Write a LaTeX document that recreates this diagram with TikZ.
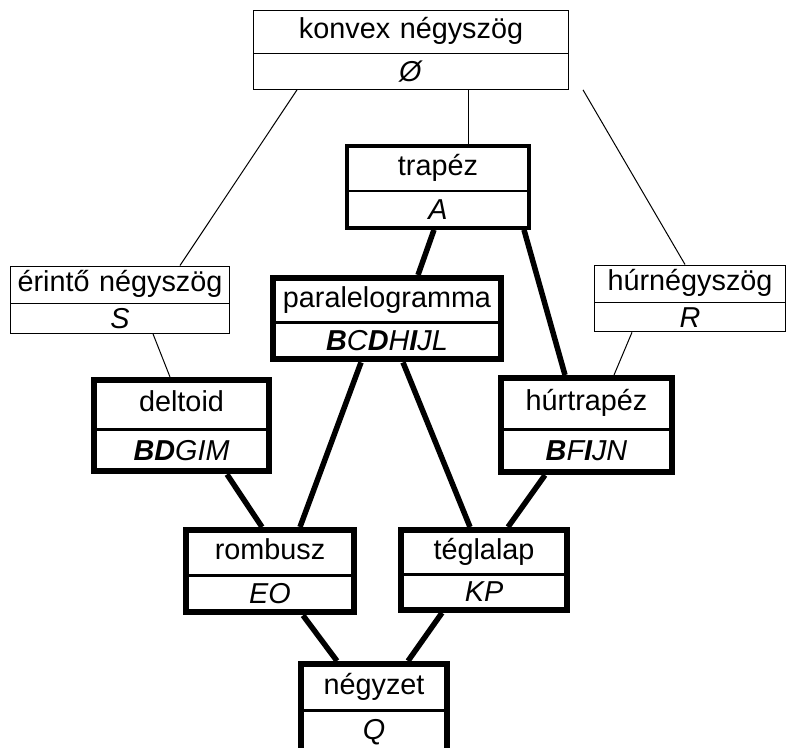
\documentclass[tikz,border=0pt]{standalone}
\usepackage{fontspec}
\setmainfont{Liberation Sans}
\usetikzlibrary{shapes.multipart, backgrounds}

\begin{document}
\begin{tikzpicture}[x=1pt, y=-1pt,
  box/.style={rectangle split, rectangle split parts=2, rectangle split draw splits=false, draw, fill=white, anchor=north, inner xsep=0pt, text height=21pt, text depth=7pt, align=center, font=\fontsize{28.8}{34}\selectfont},
  thinbox/.style={box, line width=1pt},
  midbox/.style={box, line width=4pt},
  thickbox/.style={box, line width=6pt},
  thinlink/.style={line width=1pt},
  thicklink/.style={line width=5.5pt}]
\useasboundingbox (0,0) rectangle (789,747);

\node[thinbox, text width=315pt, inner ysep=7pt] (konvex) at (411,9.5) {konvex négyszög \nodepart{two} \textit{Ø}};
\node[midbox, text width=182pt, inner ysep=6.5pt] (trapez) at (438,144) {trapéz \nodepart{two} \textit{A}};
\node[thinbox, text width=219pt, inner ysep=4.25pt] (erinto) at (120,265.5) {érintő négyszög \nodepart{two} \textit{S}};
\node[thinbox, text width=191pt, inner ysep=4.25pt] (hurnegy) at (690,264.5) {húrnégyszög \nodepart{two} \textit{R}};
\node[thickbox, text width=228pt, inner ysep=5.25pt] (paral) at (387,275) {paralelogramma \nodepart{two} \textit{\textbf{B}C\textbf{D}H\textbf{I}JL}};
\node[thickbox, text width=175pt, inner ysep=7.75pt] (deltoid) at (181.5,377) {deltoid \nodepart{two} \textit{\textbf{BD}GIM}};
\node[thickbox, text width=171pt, inner ysep=8.5pt] (hurtrapez) at (586.5,375) {húrtrapéz \nodepart{two} \textit{\textbf{B}F\textbf{I}JN}};
\node[thickbox, text width=168pt, inner ysep=5.5pt] (rombusz) at (270,527) {rombusz \nodepart{two} \textit{EO}};
\node[thickbox, text width=166pt, inner ysep=5pt] (teglalap) at (484,527) {téglalap \nodepart{two} \textit{KP}};
\node[thickbox, text width=146pt, inner ysep=6.25pt] (negyzet) at (374,661) {négyzet \nodepart{two} \textit{Q}};

% links go behind the white boxes
\begin{scope}[on background layer]
% thin links
\draw[thinlink] ([xshift=-114pt]konvex.south) -- ([xshift=60pt]erinto.north);
\draw[thinlink] ([xshift=57pt]konvex.south) -- ([xshift=30pt]trapez.north);
\draw[thinlink] ([xshift=172pt]konvex.south) -- ([xshift=-5pt]hurnegy.north);
\draw[thinlink] ([xshift=33pt]erinto.south) -- ([xshift=-11.5pt]deltoid.north);
\draw[thinlink] ([xshift=-58pt]hurnegy.south) -- ([xshift=27.5pt]hurtrapez.north);
% thick links
\draw[thicklink] ([xshift=-4pt]trapez.south) -- ([xshift=31pt]paral.north);
\draw[thicklink] ([xshift=86pt]trapez.south) -- ([xshift=-21.5pt]hurtrapez.north);
\draw[thicklink] ([xshift=-26pt]paral.south) -- ([xshift=30pt]rombusz.north);
\draw[thicklink] ([xshift=16pt]paral.south) -- ([xshift=-14pt]teglalap.north);
\draw[thicklink] ([xshift=45.5pt]deltoid.south) -- ([xshift=-8pt]rombusz.north);
\draw[thicklink] ([xshift=-41.5pt]hurtrapez.south) -- ([xshift=24pt]teglalap.north);
\draw[thicklink] ([xshift=33pt]rombusz.south) -- ([xshift=-37pt]negyzet.north);
\draw[thicklink] ([xshift=-42pt]teglalap.south) -- ([xshift=34pt]negyzet.north);
\end{scope}

% split lines, thinner than the frames
\foreach \n/\w in {konvex/1, erinto/1, hurnegy/1, trapez/1.7, paral/3, deltoid/3, hurtrapez/3, rombusz/3, teglalap/3, negyzet/3}
  \draw[line width=\w pt] (\n.text split west) -- (\n.text split east);
\end{tikzpicture}
\end{document}
